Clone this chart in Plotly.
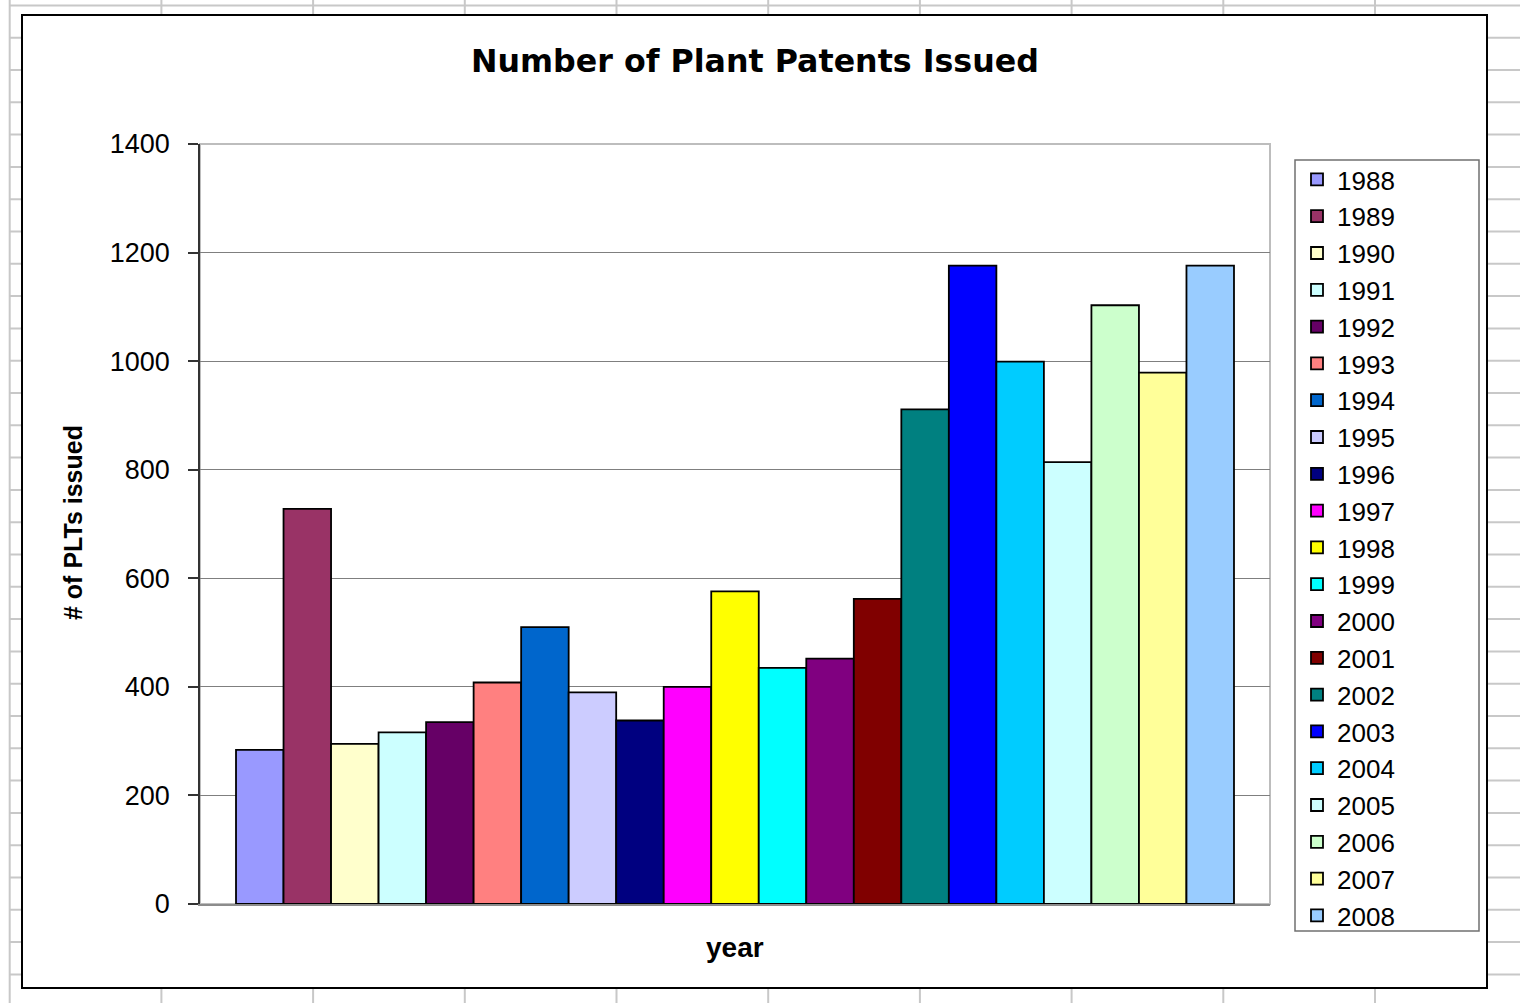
import plotly.graph_objects as go

W, H = 1520, 1003

# ---- data ----
years = [str(y) for y in range(1988, 2009)]
patents = [284, 728, 295, 316, 335, 408, 510, 390, 338, 400, 576,
           435, 452, 562, 911, 1176, 999, 814, 1103, 979, 1176]
colors = ["#9999FF", "#993366", "#FFFFCC", "#CCFFFF", "#660066", "#FF8080",
          "#0066CC", "#CCCCFF", "#000080", "#FF00FF", "#FFFF00", "#00FFFF",
          "#800080", "#800000", "#008080", "#0000FF", "#00CCFF", "#CCFFFF",
          "#CCFFCC", "#FFFF99", "#99CCFF"]
category = ["year"]
y_ticks = [0, 200, 400, 600, 800, 1000, 1200, 1400]

title_text = "Number of Plant Patents Issued"
x_title = "year"
y_title = "# of PLTs issued"

FONT = "Liberation Sans, Arial, sans-serif"


def px(x):
    return x / W


def py(y):
    return 1 - y / H


fig = go.Figure()
for yr, val, col in zip(years, patents, colors):
    fig.add_trace(go.Bar(
        x=category, y=[val], name=yr,
        marker=dict(color=col, line=dict(color="black", width=1.8)),
    ))

shapes = []
# spreadsheet grid in the background
col_x = [9.7 + 151.7 * k for k in range(10)]
for cx in col_x:
    shapes.append(dict(type="line", xref="paper", yref="paper",
                       x0=px(cx), x1=px(cx), y0=0, y1=1,
                       line=dict(color="#C8C8C8", width=2), layer="below"))
for k in range(32):
    ry = 5.4 + 32.3 * k
    shapes.append(dict(type="line", xref="paper", yref="paper",
                       x0=px(col_x[0]), x1=1, y0=py(ry), y1=py(ry),
                       line=dict(color="#C8C8C8", width=2), layer="below"))
# chart area
shapes.append(dict(type="rect", xref="paper", yref="paper",
                   x0=px(22), x1=px(1487), y0=py(988), y1=py(15),
                   fillcolor="white", line=dict(color="black", width=2),
                   layer="below"))
# plot area border
shapes.append(dict(type="rect", xref="x domain", yref="y domain",
                   x0=0, x1=1, y0=0, y1=1,
                   fillcolor="white", line=dict(color="#BDBDBD", width=2),
                   layer="below"))
# legend box
shapes.append(dict(type="rect", xref="paper", yref="paper",
                   x0=px(1295), x1=px(1479), y0=py(931), y1=py(160),
                   fillcolor="white", line=dict(color="#707070", width=1.5),
                   layer="below"))

annotations = [
    dict(text="<b>" + title_text + "</b>", xref="paper", yref="paper",
         x=px(755), y=py(61), xanchor="center", yanchor="middle",
         showarrow=False, font=dict(family="DejaVu Sans, " + FONT, size=31.7, color="black")),
    dict(text="<b>" + x_title + "</b>", xref="paper", yref="paper",
         x=px(735), y=py(947), xanchor="center", yanchor="middle",
         showarrow=False, font=dict(family=FONT, size=28, color="black")),
    dict(text="<b>" + y_title + "</b>", xref="paper", yref="paper",
         x=px(73), y=py(523), xanchor="center", yanchor="middle", textangle=-90,
         showarrow=False,
         font=dict(family=FONT, size=25, color="black")),
]

fig.update_layout(
    width=W, height=H,
    margin=dict(l=0, r=0, t=0, b=0, pad=0, autoexpand=False),
    paper_bgcolor="white",
    plot_bgcolor="rgba(0,0,0,0)",
    barmode="group",
    bargap=0.0673,
    bargroupgap=0,
    showlegend=True,
    legend=dict(x=px(1297), y=py(156), xanchor="left", yanchor="top",
                bgcolor="rgba(0,0,0,0)", borderwidth=0,
                font=dict(family=FONT, size=26, color="black"),
                traceorder="normal"),
    font=dict(family=FONT, color="black"),
    shapes=shapes,
    annotations=annotations,
)
fig.update_xaxes(domain=[px(200), px(1270)], type="category",
                 showticklabels=False, ticks="", automargin=False,
                 showgrid=False, showline=True, linecolor="#8C8C8C",
                 linewidth=2, zeroline=False)
fig.update_yaxes(domain=[py(904), py(144)], range=[0, 1400], tickvals=y_ticks,
                 ticktext=[str(v) for v in y_ticks], automargin=False,
                 showgrid=True, gridcolor="#7F7F7F", gridwidth=1,
                 showline=True, linecolor="#333333", linewidth=1.5,
                 ticks="outside", ticklen=10, tickcolor="#333333", tickwidth=1.5,
                 ticklabelstandoff=13, zeroline=False,
                 tickfont=dict(family=FONT, size=27, color="black"))

fig.write_html("out.html")
